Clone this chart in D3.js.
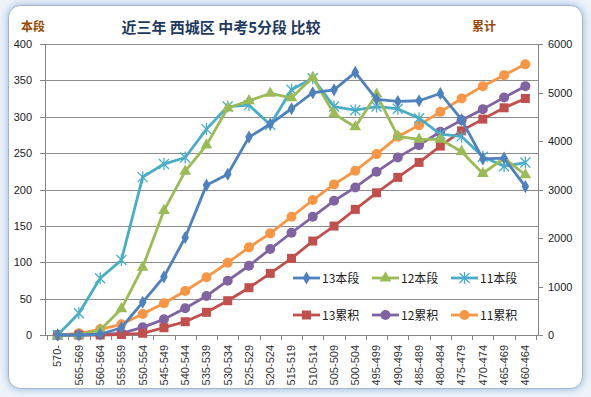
<!DOCTYPE html>
<html>
<meta charset="utf-8">
<head>
<title>近三年 西城区 中考5分段 比较</title>
<style>
  body { margin: 0; background: #fff; }
  text { font-family: "Liberation Sans", "Noto Sans CJK SC", sans-serif; }
  .cjk { font-family: "Noto Sans CJK SC", sans-serif; }
  .axis path, .axis line { fill: none; stroke: #868686; shape-rendering: crispEdges; }
  .axis text { font-size: 11px; fill: #222; }
</style>
</head>
<body>
<script src="https://d3js.org/d3.v7.min.js"></script>
<script>

var categories = ["570-", "565-569", "560-564", "555-559", "550-554", "545-549", "540-544",
  "535-539", "530-534", "525-529", "520-524", "515-519", "510-514", "505-509", "500-504",
  "495-499", "490-494", "485-489", "480-484", "475-479", "470-474", "465-469", "460-464"];

// 本段 (left axis)
var seg13 = [0, 0, 1, 10, 45, 80, 134, 206, 221, 272, 290, 311, 333, 337, 361, 324, 321, 322, 332, 296, 242, 243, 204];
var seg12 = [0, 0, 7, 36, 93, 171, 225, 261, 312, 322, 332, 326, 354, 304, 286, 331, 273, 269, 269, 252, 222, 243, 220];
var seg11 = [0, 30, 78, 103, 217, 235, 244, 283, 314, 316, 289, 337, 353, 314, 309, 314, 311, 298, 276, 273, 245, 232, 237];

// 累积 (right axis)
var cum13 = [0, 0, 0, 10, 35, 150, 274, 468, 707, 975, 1271, 1580, 1937, 2246, 2590, 2932, 3250, 3559, 3895, 4210, 4451, 4684, 4877];
var cum12 = [0, 0, 20, 35, 158, 323, 550, 804, 1119, 1428, 1772, 2108, 2438, 2767, 3043, 3365, 3662, 3915, 4190, 4430, 4657, 4898, 5131];
var cum11 = [0, 35, 117, 220, 433, 653, 907, 1189, 1490, 1807, 2096, 2438, 2782, 3105, 3386, 3730, 4086, 4327, 4601, 4877, 5131, 5358, 5584];

var leftTicks = [0, 50, 100, 150, 200, 250, 300, 350, 400];
var rightTicks = [0, 1000, 2000, 3000, 4000, 5000, 6000];

var W = 591, H = 397;
var margin = {top: 44, right: 53, bottom: 62, left: 45},
    width = W - margin.left - margin.right,
    height = H - margin.top - margin.bottom;

var svg = d3.select("body").append("svg")
    .attr("width", W)
    .attr("height", H);

// frame
var defs = svg.append("defs");
var f = defs.append("filter").attr("id", "glow").attr("x", "-10%").attr("y", "-10%").attr("width", "120%").attr("height", "120%");
f.append("feGaussianBlur").attr("in", "SourceAlpha").attr("stdDeviation", 4).attr("result", "b");
f.append("feFlood").attr("flood-color", "#8fb3dc").attr("result", "c");
f.append("feComposite").attr("in", "c").attr("in2", "b").attr("operator", "in").attr("result", "s");
var fm = f.append("feMerge");
fm.append("feMergeNode").attr("in", "s");
fm.append("feMergeNode").attr("in", "SourceGraphic");

svg.append("rect").attr("width", W).attr("height", H).attr("fill", "#eef3fa");
svg.append("rect")
    .attr("x", 8.5).attr("y", 5.5).attr("width", 574).attr("height", 383)
    .attr("rx", 12).attr("fill", "#fff").attr("stroke", "#a5b6ca")
    .attr("filter", "url(#glow)");

var g = svg.append("g").attr("transform", "translate(" + margin.left + "," + margin.top + ")");

var x = d3.scaleBand().domain(categories).range([2, width - 2]);
var xc = function(i) { return x(categories[i]) + x.bandwidth() / 2; };
var yL = d3.scaleLinear().domain([0, 400]).range([height, 0]);
var yR = d3.scaleLinear().domain([0, 6000]).range([height, 0]);

// gridlines
g.append("g").selectAll("line").data(leftTicks).enter().append("line")
    .attr("x1", 0).attr("x2", width)
    .attr("y1", function(d) { return Math.round(yL(d)) + 0.5; })
    .attr("y2", function(d) { return Math.round(yL(d)) + 0.5; })
    .attr("stroke", "#8c8c8c").attr("stroke-width", 1);

// axes
g.append("g").attr("class", "axis")
    .call(d3.axisLeft(yL).tickValues(leftTicks).tickSize(5).tickPadding(8));
g.append("g").attr("class", "axis")
    .attr("transform", "translate(" + width + ",0)")
    .call(d3.axisRight(yR).tickValues(rightTicks).tickFormat(d3.format("d")).tickSize(5).tickPadding(5));

var xAxis = g.append("g").attr("class", "axis")
    .attr("transform", "translate(0," + height + ")")
    .call(d3.axisBottom(x).tickSize(0).tickPadding(0));
xAxis.selectAll("text")
    .attr("transform", "rotate(-90)")
    .attr("x", -10).attr("y", 0).attr("dy", "0.35em")
    .style("text-anchor", "end")
    .style("fill", "#333");
// band boundary ticks
xAxis.selectAll(".bt").data(categories.concat(["end"])).enter().append("line")
    .attr("x1", function(d, i) { return Math.round(2 + i * x.step()) + 0.5; })
    .attr("x2", function(d, i) { return Math.round(2 + i * x.step()) + 0.5; })
    .attr("y1", 0).attr("y2", 5);
xAxis.select(".domain").attr("d", "M0,0.5H" + width);

// titles
svg.append("text").attr("class", "cjk").attr("x", 221).attr("y", 33)
    .attr("text-anchor", "middle").attr("font-size", 15).attr("font-weight", "bold")
    .attr("fill", "#1f3a5f").text("近三年 西城区 中考5分段 比较");
svg.append("text").attr("class", "cjk").attr("x", 21).attr("y", 31)
    .attr("font-size", 12).attr("font-weight", "bold").attr("fill", "#984807").text("本段");
svg.append("text").attr("class", "cjk").attr("x", 472).attr("y", 31)
    .attr("font-size", 12).attr("font-weight", "bold").attr("fill", "#984807").text("累计");

var series = [
  {name: "13本段", data: seg13, y: yL, color: "#4f81bd", marker: "diamond"},
  {name: "12本段", data: seg12, y: yL, color: "#9bbb59", marker: "triangle"},
  {name: "11本段", data: seg11, y: yL, color: "#4bacc6", marker: "star"},
  {name: "13累积", data: cum13, y: yR, color: "#c0504d", marker: "square"},
  {name: "12累积", data: cum12, y: yR, color: "#8064a2", marker: "circle"},
  {name: "11累积", data: cum11, y: yR, color: "#f79646", marker: "circle"}
];

function drawMarker(sel, s, px, py) {
  if (s.marker === "diamond") {
    sel.append("path").attr("d", d3.symbol().type(d3.symbolDiamond).size(50)())
      .attr("transform", "translate(" + px + "," + py + ")").attr("fill", s.color);
  } else if (s.marker === "triangle") {
    sel.append("path").attr("d", d3.symbol().type(d3.symbolTriangle).size(60)())
      .attr("transform", "translate(" + px + "," + py + ")").attr("fill", s.color);
  } else if (s.marker === "square") {
    sel.append("rect").attr("x", px - 4.5).attr("y", py - 4.5).attr("width", 9).attr("height", 9)
      .attr("fill", s.color);
  } else if (s.marker === "circle") {
    sel.append("circle").attr("cx", px).attr("cy", py).attr("r", 5).attr("fill", s.color);
  } else {
    var r = 5;
    var p = "M" + (px - r) + "," + (py - r) + "L" + (px + r) + "," + (py + r) +
            "M" + (px - r) + "," + (py + r) + "L" + (px + r) + "," + (py - r) +
            "M" + px + "," + (py - r - 1) + "L" + px + "," + (py + r + 1);
    sel.append("path").attr("d", p).attr("stroke", s.color).attr("stroke-width", 1.3).attr("fill", "none");
  }
}

var line = function(s) {
  return d3.line().x(function(d, i) { return xc(i); }).y(function(d) { return s.y(d); });
};

series.slice().reverse().forEach(function(s) {
  var sg = g.append("g");
  sg.append("path").datum(s.data).attr("d", line(s))
    .attr("fill", "none").attr("stroke", s.color).attr("stroke-width", 2.8)
    .attr("stroke-linejoin", "round");
  s.data.forEach(function(d, i) { drawMarker(sg, s, xc(i), s.y(d)); });
});

// legend
var legend = svg.append("g");
series.forEach(function(s, i) {
  var col = i % 3, row = Math.floor(i / 3);
  var lx = 293 + col * 79, ly = 278 + row * 37;
  legend.append("line").attr("x1", lx).attr("x2", lx + 27).attr("y1", ly).attr("y2", ly)
    .attr("stroke", s.color).attr("stroke-width", 2.8);
  drawMarker(legend, s, lx + 13.5, ly);
  legend.append("text").attr("class", "cjk").attr("x", lx + 29).attr("y", ly + 4.5)
    .attr("font-size", 12).attr("fill", "#222").text(s.name);
});

</script>
</body>
</html>
